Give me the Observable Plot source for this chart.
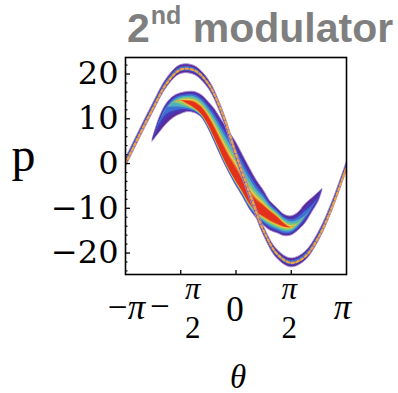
<!DOCTYPE html>
<html><head><meta charset="utf-8">
<script src="https://cdn.jsdelivr.net/npm/d3@7"></script>
<script src="https://cdn.jsdelivr.net/npm/@observablehq/plot@0.6"></script>
<style>
html,body{margin:0;padding:0;background:#fff;}
#title{position:relative;height:52px;width:398px;font-family:"Liberation Sans",Arial,sans-serif;font-weight:bold;color:#7f7f7f;}
#title .t{position:absolute;left:127px;top:8px;font-size:41px;line-height:41px;white-space:nowrap;}
#title .sup{font-size:25px;position:relative;top:-18px;margin-left:1px;}
#chart svg{display:block;}
</style></head><body>
<div id="title"><span class="t">2<span class="sup">nd</span> modulator</span></div>
<div id="chart"></div>
<script>
// ---- data ----
const PI = Math.PI;
const xTickValues = [-PI, 0, PI];
const xTickSigns = ["−", "", ""];
const xTickLabels = ["π", "0", "π"];
const xHalfTicks = [-PI / 2, PI / 2];
const xHalfNumerators = ["π", "π"];
const xHalfDenominators = ["2", "2"];
const xHalfSigns = ["−", ""];
const yTickValues = [20, 10, 0, -10, -20];
const yTickLabels = ["20", "10", "0", "−10", "−20"];
const yMinorTicks = [22, 18, 16, 14, 12, 8, 6, 4, 2, -2, -4, -6, -8, -12, -14, -16, -18, -22, -24];
const xLabel = "θ";
const yLabel = "p";

// outer (thin) band: centre line and half-thickness
const outerTheta = [-3.1416, -2.7489, -2.3562, -1.9635, -1.5708, -1.1781, -0.7854, -0.3927, 0, 0.3927, 0.7854, 1.1781, 1.5708, 1.9635, 2.3562, 2.7489, 3.1416];
const outerP = [0.0, 6.3, 12.4, 18.0, 21.0, 20.8, 17.8, 11.3, 2.0, -6.8, -15.0, -20.3, -22.2, -20.8, -16.3, -9.4, -0.8];
const outerSpread = 1.0;

// inner (wide) band: upper edge, lower edge, density ridge and peak density
const innerTheta = [-2.37, -2.16, -1.96, -1.77, -1.57, -1.37, -1.18, -0.98, -0.785, -0.59, -0.39, -0.2, 0, 0.2, 0.39, 0.59, 0.785, 0.98, 1.18, 1.37, 1.57, 1.77, 1.96, 2.16, 2.36, 2.46];
const innerUpper = [5.4, 10.5, 13.5, 15.0, 15.7, 16.0, 16.0, 15.3, 13.8, 12.0, 9.5, 7.2, 4.8, 1.8, -1.0, -3.8, -6.0, -8.5, -10.0, -11.4, -11.8, -11.0, -9.2, -7.8, -6.4, -5.7];
const innerLower = [4.9, 7.0, 8.9, 10.2, 11.0, 11.5, 11.3, 10.3, 7.8, 4.5, 1.0, -2.0, -4.9, -7.5, -10.2, -12.3, -13.8, -15.0, -15.6, -16.2, -16.1, -15.0, -13.5, -11.0, -8.3, -5.8];
const innerRidge = [5.2, 9.5, 12.3, 13.6, 14.0, 13.6, 12.8, 11.3, 9.0, 5.8, 2.3, -0.8, -3.5, -6.0, -8.5, -10.2, -11.0, -11.8, -12.8, -13.8, -14.3, -13.5, -12.0, -10.0, -7.5, -5.7];
const innerPeak = [0.15, 0.25, 0.32, 0.45, 0.6, 0.8, 0.95, 1.0, 1.0, 1.0, 1.0, 1.0, 1.0, 0.97, 0.97, 1.0, 1.0, 1.0, 0.95, 0.8, 0.65, 0.48, 0.35, 0.27, 0.2, 0.15];

// ---- build ----
const palette = ["#5a2a98", "#4838b8", "#3f6fd0", "#4fb0c0", "#8cc870", "#e6cc46", "#f07a28", "#e2321e"];
const levelStart = [0, 0.1, 0.2, 0.32, 0.44, 0.55, 0.63, 0.7];
const innerRows = innerTheta.map((t, i) => ({t, hi: innerUpper[i], lo: innerLower[i], r: innerRidge[i], a: innerPeak[i]}));
const outerRows = outerTheta.map((t, i) => ({t, p: outerP[i]}));
const scaleOf = (k, d) => k === 0 ? 1 : Math.max(0, 1 - levelStart[k] / d.a);

const innerMarks = palette.map((c, k) => Plot.areaY(innerRows, {
  x: "t",
  y1: d => d.r - (d.r - d.lo) * scaleOf(k, d),
  y2: d => d.r + (d.hi - d.r) * scaleOf(k, d),
  fill: c,
  stroke: k === 0 ? "#a58bd8" : "none",
  strokeWidth: k === 0 ? 0.9 : 0,
  curve: "catmull-rom",
  clip: true
}));

const xTickRows = xTickValues.map((v, i) => ({v, m: xTickSigns[i], s: xTickLabels[i]}));
const halfRows = xHalfTicks.map((v, i) => ({v, n: xHalfNumerators[i], d: xHalfDenominators[i], s: xHalfSigns[i]}));
const yTickRows = yTickValues.map((v, i) => ({v, s: yTickLabels[i]}));
const serif = "Liberation Serif";
const base = {frameAnchor: "bottom", lineAnchor: "bottom", textAnchor: "middle", fontFamily: serif, fill: "#000"};

const chart = Plot.plot({
  width: 398,
  height: 341,
  marginLeft: 125,
  marginRight: 52,
  marginTop: 5,
  marginBottom: 119,
  x: {domain: [-PI, PI]},
  y: {domain: [-24.8, 23.7]},
  style: {fontFamily: "DejaVu Serif", fontSize: "32px", color: "#000", background: "transparent", overflow: "visible"},
  marks: [
    ...innerMarks,
    Plot.areaY(outerRows, {x: "t", y1: d => d.p - outerSpread, y2: d => d.p + outerSpread, fill: "#5a2a98", stroke: "#a58bd8", strokeWidth: 0.9, curve: "catmull-rom", clip: true}),
    Plot.areaY(outerRows, {x: "t", y1: d => d.p - outerSpread * 0.5, y2: d => d.p + outerSpread * 0.5, fill: "#3f6fd0", curve: "catmull-rom", clip: true}),
    Plot.line(outerRows, {x: "t", y: "p", stroke: "#f2a33a", strokeWidth: 2.2, strokeDasharray: "2.5,2.5", curve: "catmull-rom", clip: true}),
    Plot.axisY({ticks: yTickValues, tickSize: -5, tickFormat: () => "", label: null, strokeWidth: 1.3}),
    Plot.axisY({ticks: yMinorTicks, tickSize: -2.5, tickFormat: () => "", label: null, strokeWidth: 1.1}),
    Plot.axisX({ticks: [xHalfTicks[0], xTickValues[1], xHalfTicks[1]], tickSize: -4, tickFormat: () => "", label: null, strokeWidth: 1.3}),
    Plot.frame({stroke: "#000", strokeWidth: 1.6}),
    Plot.text(yTickRows, {y: "v", text: "s", frameAnchor: "left", textAnchor: "end", dx: -7, fontFamily: "DejaVu Serif", fontSize: 32, fill: "#000"}),
    // −π
    Plot.text(xTickRows.slice(0, 1), {...base, x: "v", text: "m", dy: 44, dx: -8, fontSize: 35}),
    Plot.text(xTickRows.slice(0, 1), {...base, x: "v", text: "s", dy: 44, dx: 11, fontStyle: "italic", fontSize: 35}),
    // 0
    Plot.text(xTickRows.slice(1, 2), {...base, x: "v", text: "s", dy: 46, dx: -1, fontSize: 35}),
    // π
    Plot.text(xTickRows.slice(2, 3), {...base, x: "v", text: "s", dy: 44, dx: -4, fontStyle: "italic", fontSize: 35}),
    // −π/2
    Plot.text(halfRows.slice(0, 1), {...base, x: "v", text: "s", dy: 43, dx: -21, fontSize: 35}),
    Plot.text(halfRows.slice(0, 1), {...base, x: "v", text: "n", dy: 24, dx: 12, fontStyle: "italic", fontSize: 31}),
    Plot.text(halfRows.slice(0, 1), {...base, x: "v", text: "d", dy: 63, dx: 12, fontSize: 31}),
    // π/2
    Plot.text(halfRows.slice(1, 2), {...base, x: "v", text: "n", dy: 24, dx: -2, fontStyle: "italic", fontSize: 31}),
    Plot.text(halfRows.slice(1, 2), {...base, x: "v", text: "d", dy: 63, dx: -2, fontSize: 31}),
    // axis labels
    Plot.text([yLabel], {frameAnchor: "left", lineAnchor: "bottom", textAnchor: "middle", dx: -102, dy: 4.5, fontFamily: serif, fontSize: 48, fill: "#000"}),
    Plot.text([xLabel], {...base, dx: 2, dy: 113, fontStyle: "italic", fontSize: 33})
  ]
});
document.getElementById("chart").appendChild(chart);
</script>
</body></html>
